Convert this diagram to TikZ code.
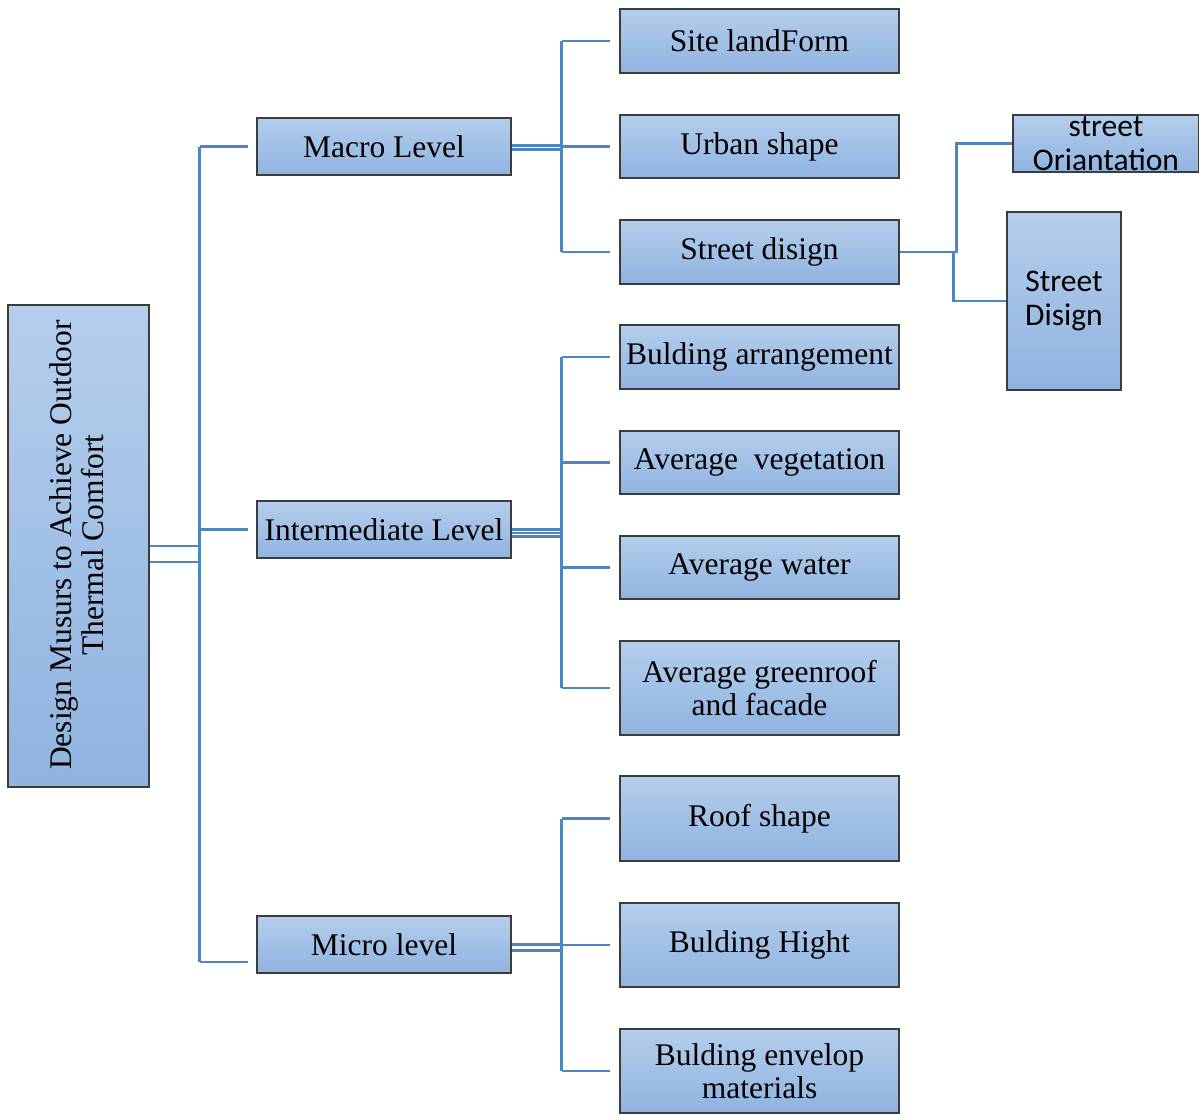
\documentclass[tikz,border=0pt]{standalone}
\usepackage{fontspec}
\setmainfont{Liberation Serif}
\newfontfamily\calfont{Carlito}
\usetikzlibrary{shadings,calc}
\definecolor{boxtop}{HTML}{B4CEEC}
\definecolor{boxbot}{HTML}{90B3E0}
\definecolor{boxline}{HTML}{3C3C3C}
\definecolor{connblue}{HTML}{4F86C0}
\tikzset{
  box/.style={draw=boxline, line width=1.2pt, top color=boxtop, bottom color=boxbot,
    inner sep=0pt, align=center, font=\fontsize{31.5}{33}\selectfont},
  sbox/.style={box, font=\calfont\fontsize{31.5}{34}\selectfont},
  lvl/.style={box, minimum width=254pt, minimum height=57pt},
  leaf/.style={box, minimum width=279pt},
  conn/.style={draw=connblue, line width=2.6pt},
}
\begin{document}
\begin{tikzpicture}[x=1pt,y=-1pt]
\useasboundingbox (0,0) rectangle (1199,1114);
% root
\node[box, minimum width=141pt, minimum height=482pt] (root) at (78.5,546) {};
\node[rotate=90, align=center, inner sep=0pt, font=\fontsize{31.5}{32}\selectfont] (roottext) at (77,545)
  {Design Musurs to Achieve Outdoor\\Thermal Comfort};
% levels
\node[lvl] (macro) at (384,146.5) {Macro Level};
\node[lvl] (inter) at (384,529.5) {Intermediate Level};
\node[lvl] (micro) at (384,944.5) {Micro level};
% leaves
\node[leaf, minimum height=64pt] (site) at (759.5,41) {Site landForm};
\node[leaf, minimum height=63pt] (urban) at (759.5,146.5) {Urban shape};
\node[leaf, minimum height=64pt] (street) at (759.5,252) {Street disign};
\node[leaf, minimum height=64pt] (barr) at (759.5,357) {Bulding arrangement};
\node[leaf, minimum height=63pt] (veg) at (759.5,462.5) {Average\ \ vegetation};
\node[leaf, minimum height=63pt] (water) at (759.5,567.5) {Average water};
\node[leaf, minimum height=94pt] (green) at (759.5,688) {Average greenroof\\and facade};
\node[leaf, minimum height=85pt] (roof) at (759.5,818.5) {Roof shape};
\node[leaf, minimum height=84pt] (hight) at (759.5,945) {Bulding Hight};
\node[leaf, minimum height=84pt] (env) at (759.5,1071) {Bulding envelop\\materials};
% street sub-items
\node[sbox, minimum width=186pt, minimum height=57pt] (orient) at (1106,143.5) {street\\Oriantation};
\node[sbox, minimum width=114pt, minimum height=178pt] (sdisign) at (1064,301) {Street\\Disign};
% root connectors
\draw[conn] (root.east) -- ++(50,0) coordinate (j0);
\draw[conn] ($(root.east)+(0,16)$) -- ++(50,0);
\draw[conn] (j0 |- macro.west) -- ($(j0 |- micro.west)+(0,17.5)$);
\draw[conn, shorten >=8pt] (j0 |- macro.west) -- (macro.west);
\draw[conn, shorten >=8pt] (j0 |- inter.west) -- (inter.west);
\draw[conn, shorten >=8pt] ($(j0 |- micro.west)+(0,17.5)$) -- ($(micro.west)+(0,17.5)$);
% macro connectors
\draw[conn] ($(macro.east)+(0,-1)$) -- ++(50,0) coordinate (j1);
\draw[conn] ($(macro.east)+(0,3)$) -- ++(50,0);
\draw[conn] (j1 |- site.west) -- (j1 |- street.west);
\foreach \c in {site,urban,street}
  \draw[conn, shorten >=9pt] (j1 |- \c.west) -- (\c.west);
% intermediate connectors
\draw[conn] (inter.east) -- ++(50,0) coordinate (j2);
\draw[conn] ($(inter.east)+(0,3.5)$) -- ++(50,0);
\draw[conn] ($(inter.east)+(0,7)$) -- ++(50,0);
\draw[conn] (j2 |- barr.west) -- (j2 |- green.west);
\foreach \c in {barr,veg,water,green}
  \draw[conn, shorten >=9pt] (j2 |- \c.west) -- (\c.west);
% micro connectors
\draw[conn] (micro.east) -- ++(50,0) coordinate (j3);
\draw[conn] ($(micro.east)+(0,6)$) -- ++(50,0);
\draw[conn] (j3 |- roof.west) -- (j3 |- env.west);
\foreach \c in {roof,hight,env}
  \draw[conn, shorten >=9pt] (j3 |- \c.west) -- (\c.west);
% street sub connectors
\draw[conn] (street.east) -- ++(57,0) |- (orient.west);
\draw[conn] ($(street.east)+(54,0)$) |- (sdisign.west);
\end{tikzpicture}
\end{document}
